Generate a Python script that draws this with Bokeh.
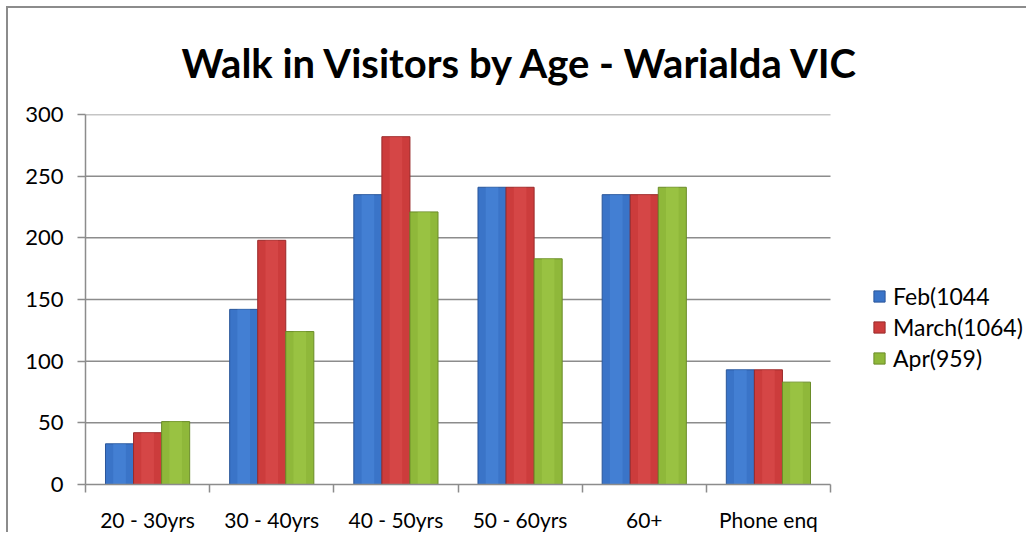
import numpy as np
from bokeh.plotting import figure
from bokeh.models import (FixedTicker, Range1d, Legend, LegendItem, ColumnDataSource)
from bokeh.embed import file_html
from bokeh.resources import INLINE

# ---- data ----
categories = ["20 - 30yrs", "30 - 40yrs", "40 - 50yrs", "50 - 60yrs", "60+", "Phone enq"]
series_names = ["Feb(1044", "March(1064)", "Apr(959)"]
feb = [33, 142, 235, 241, 235, 93]
march = [42, 198, 282, 241, 235, 93]
apr = [51, 124, 221, 183, 241, 83]
y_ticks = [0, 50, 100, 150, 200, 250, 300]

series_values = [feb, march, apr]
fill_colors = ["#3a74c8", "#cc3c3c", "#8fb83a"]
edge_colors = ["#2a569a", "#9a2a2a", "#6a8c28"]
hi_colors = ["#4f8ee0", "#e05252", "#a6cf4e"]

FONT = "Lato"
GRID = "#8c8c8c"

W, H = 1020, 526
LEFT, TOP, BOTTOM = 77, 106, 50
PLOT_W = 745  # pixel width of the category area
n = len(categories)
x_end = n * (W - LEFT) / PLOT_W  # frame extends to the right to host the legend

p = figure(width=W, height=H, output_backend="svg", toolbar_location=None,
           x_range=Range1d(0, x_end), y_range=Range1d(0, 300),
           min_border_left=LEFT, min_border_right=0, min_border_top=TOP,
           min_border_bottom=BOTTOM)

p.title.text = "Walk in Visitors by Age - Warialda VIC"
p.title.text_font = FONT
p.title.text_font_size = "40px"
p.title.text_font_style = "bold"
p.title.text_color = "#000000"
p.title.align = "left"
p.title.offset = 96
p.title.standoff = 56
p.title.text_line_height = 0.9

p.outline_line_color = None
p.background_fill_color = "white"
p.border_fill_color = "white"

# horizontal gridlines limited to the category area
grid_src = ColumnDataSource(dict(y=y_ticks[1:], x0=[0] * (len(y_ticks) - 1),
                                 x1=[n] * (len(y_ticks) - 1)))
p.segment(x0="x0", x1="x1", y0="y", y1="y", source=grid_src,
          line_color=GRID, line_width=1.5, level="underlay")

centers = np.arange(n) + 0.5
bar_w = 0.226
offsets = [-bar_w, 0.0, bar_w]

items = []
for name, vals, fc, ec, hc, off in zip(series_names, series_values, fill_colors,
                                        edge_colors, hi_colors, offsets):
    src = ColumnDataSource(dict(x=centers + off, top=vals))
    r = p.vbar(x="x", top="top", width=bar_w, bottom=0, source=src,
               fill_color=fc, line_color=ec, line_width=1)
    p.vbar(x="x", top="top", width=bar_w * 0.45, bottom=0, source=src,
           fill_color=hc, fill_alpha=0.45, line_color=None)
    items.append(LegendItem(label=name, renderers=[r]))

# x axis: labels at category centres, tick marks at category boundaries
xa = p.xaxis[0]
xa.bounds = (0, n)
xa.ticker = FixedTicker(ticks=list(centers), minor_ticks=list(range(n + 1)))
xa.major_label_overrides = {float(c): cat for c, cat in zip(centers, categories)}
xa.major_tick_line_color = None
xa.minor_tick_line_color = GRID
xa.minor_tick_out = 8
xa.minor_tick_in = 0
xa.axis_line_color = GRID
xa.axis_line_width = 1.5
xa.minor_tick_line_width = 1.5
xa.major_label_text_font = FONT
xa.major_label_text_font_size = "21px"
xa.major_label_text_color = "#000000"
xa.major_label_standoff = 14

ya = p.yaxis[0]
ya.ticker = FixedTicker(ticks=y_ticks, minor_ticks=[])
ya.major_tick_line_color = GRID
ya.major_tick_out = 8
ya.major_tick_in = 0
ya.major_tick_line_width = 1.5
ya.axis_line_color = GRID
ya.axis_line_width = 1.5
ya.major_label_text_font = FONT
ya.major_label_text_font_size = "22px"
ya.major_label_text_color = "#000000"
ya.major_label_standoff = 14

p.xgrid.grid_line_color = None
p.ygrid.grid_line_color = None

legend = Legend(items=items, location=(787, 112), orientation="vertical",
                label_text_font=FONT, label_text_font_size="23px",
                label_text_color="#000000", glyph_width=14, glyph_height=14,
                label_standoff=7, spacing=3, padding=0, margin=0,
                border_line_color=None, background_fill_alpha=0)
p.add_layout(legend, "center")

p.styles = {"border-top": "2px solid #8c8c8c", "border-left": "2px solid #8c8c8c",
            "margin-left": "6px", "margin-top": "6px"}

open("out.html", "w").write(file_html(p, INLINE))
